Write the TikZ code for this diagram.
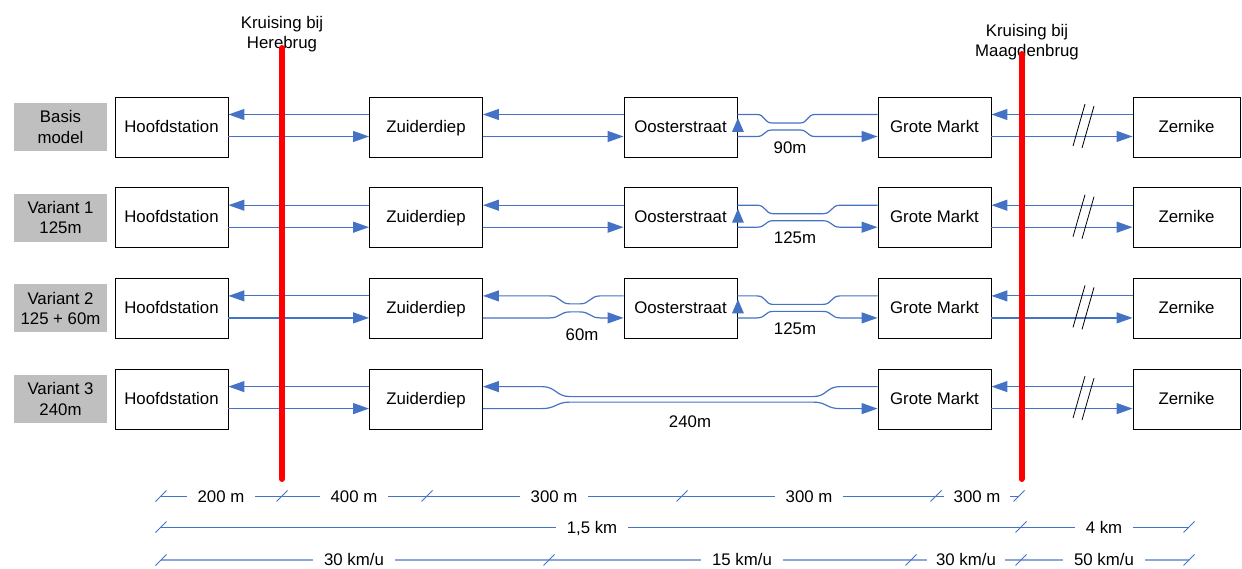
\documentclass[tikz,border=0pt]{standalone}
\usepackage{fontspec}
\setmainfont{Liberation Sans}
\usetikzlibrary{arrows.meta,calc}
\definecolor{track}{RGB}{68,114,196}
\definecolor{tracklight}{RGB}{140,168,218}
\definecolor{tagfill}{RGB}{191,191,191}
\definecolor{bridge}{RGB}{255,0,0}

\begin{document}
\begin{tikzpicture}[x=1pt,y=-1pt,
  every node/.style={font=\fontsize{16.8}{20.5}\selectfont, inner sep=0pt},
  oneline/.style={text height=12pt, text depth=1.5pt},
  station/.style={oneline, draw=black, line width=0.9pt, minimum width=113pt, minimum height=60pt, fill=white},
  tagbox/.style={fill=tagfill, minimum width=93pt, minimum height=48pt, align=center},
  link/.style={draw=track, line width=1.2pt},
  arrowin/.style={-{Triangle[length=16pt,width=11pt]}},
  uptip/.style={fill=track},
  breakmark/.style={draw=black, line width=0.8pt},
  bridgeline/.style={draw=bridge, line width=6pt, line cap=round},
  dimline/.style={draw=track, line width=1pt},
  dimlight/.style={draw=tracklight, line width=1.5pt},
  dimtick/.style={draw=track, line width=1pt},
  dimlabel/.style={fill=white, inner xsep=11pt, inner ysep=1pt, text height=12pt, text depth=0pt},
  seglabel/.style={oneline}
]
\useasboundingbox (0,0) rectangle (1242,569);

% ---------- row 1: basis model ----------
\begin{scope}
\node[tagbox] (t1) at (60.5,127) {Basis\\model};
\node[station] (hs1) at (171.5,127) {Hoofdstation};
\node[station] (zd1) at (426,127) {Zuiderdiep};
\node[station] (os1) at (680.5,127) {Oosterstraat};
\node[station] (gm1) at (934.5,127) {Grote Markt};
\node[station, minimum width=107pt] (zn1) at (1186.5,127) {Zernike};
\draw[link,arrowin] ($(zd1.west)+(0,-12.5)$) -- ($(hs1.east)+(0,-12.5)$);
\draw[link,arrowin] ($(hs1.east)+(0,9.5)$) -- ($(zd1.west)+(0,9.5)$);
\draw[link,arrowin] ($(os1.west)+(0,-12.5)$) -- ($(zd1.east)+(0,-12.5)$);
\draw[link,arrowin] ($(zd1.east)+(0,9.5)$) -- ($(os1.west)+(0,9.5)$);
\draw[link] ($(gm1.west)+(0,-12.5)$) -- (815,114.5) .. controls (807,114.5) and (808,123) .. (800,123) -- (772,123) .. controls (764,123) and (765,114.5) .. (757,114.5) -- ($(os1.east)+(0,-12.5)$);
\draw[link,arrowin] ($(os1.east)+(0,9.5)$) -- (757,136.5) .. controls (765,136.5) and (764,130) .. (772,130) -- (800,130) .. controls (808,130) and (807,136.5) .. (815,136.5) -- ($(gm1.west)+(0,9.5)$);
\fill[uptip] ($(os1.east)+(0.5,-9)$) -- ($(os1.east)+(6.5,5)$) -- ($(os1.east)+(-5.5,5)$) -- cycle;
\node[seglabel] (l1) at (790,148) {90m};
\draw[link,arrowin] ($(zn1.west)+(0,-12.5)$) -- ($(gm1.east)+(0,-12.5)$);
\draw[link,arrowin] ($(gm1.east)+(0,9.5)$) -- ($(zn1.west)+(0,9.5)$);
\draw[breakmark] (1073,146) -- (1085,104);
\draw[breakmark] (1082,148) -- (1094,106);
\end{scope}

% ---------- row 2: variant 1 ----------
\begin{scope}[yshift=-90.7pt]
\node[tagbox] (t2) at (60.5,127) {Variant 1\\125m};
\node[station] (hs2) at (171.5,127) {Hoofdstation};
\node[station] (zd2) at (426,127) {Zuiderdiep};
\node[station] (os2) at (680.5,127) {Oosterstraat};
\node[station] (gm2) at (934.5,127) {Grote Markt};
\node[station, minimum width=107pt] (zn2) at (1186.5,127) {Zernike};
\draw[link,arrowin] ($(zd2.west)+(0,-12.5)$) -- ($(hs2.east)+(0,-12.5)$);
\draw[link,arrowin] ($(hs2.east)+(0,9.5)$) -- ($(zd2.west)+(0,9.5)$);
\draw[link,arrowin] ($(os2.west)+(0,-12.5)$) -- ($(zd2.east)+(0,-12.5)$);
\draw[link,arrowin] ($(zd2.east)+(0,9.5)$) -- ($(os2.west)+(0,9.5)$);
\draw[link] ($(gm2.west)+(0,-12.5)$) -- (840,114.5) .. controls (831,114.5) and (832,123) .. (823,123) -- (773,123) .. controls (765,123) and (766,114.5) .. (757,114.5) -- ($(os2.east)+(0,-12.5)$);
\draw[link,arrowin] ($(os2.east)+(0,9.5)$) -- (757,136.5) .. controls (766,136.5) and (765,130) .. (773,130) -- (823,130) .. controls (832,130) and (831,136.5) .. (840,136.5) -- ($(gm2.west)+(0,9.5)$);
\fill[uptip] ($(os2.east)+(0.5,-9)$) -- ($(os2.east)+(6.5,5)$) -- ($(os2.east)+(-5.5,5)$) -- cycle;
\node[seglabel] (l2) at (795,147.5) {125m};
\draw[link,arrowin] ($(zn2.west)+(0,-12.5)$) -- ($(gm2.east)+(0,-12.5)$);
\draw[link,arrowin] ($(gm2.east)+(0,9.5)$) -- ($(zn2.west)+(0,9.5)$);
\draw[breakmark] (1073,146) -- (1085,104);
\draw[breakmark] (1082,148) -- (1094,106);
\end{scope}

% ---------- row 3: variant 2 ----------
\begin{scope}[yshift=-181.4pt]
\node[tagbox] (t3) at (60.5,127) {Variant 2\\125 + 60m};
\node[station] (hs3) at (171.5,127) {Hoofdstation};
\node[station] (zd3) at (426,127) {Zuiderdiep};
\node[station] (os3) at (680.5,127) {Oosterstraat};
\node[station] (gm3) at (934.5,127) {Grote Markt};
\node[station, minimum width=107pt] (zn3) at (1186.5,127) {Zernike};
\draw[link,arrowin] ($(zd3.west)+(0,-12.5)$) -- ($(hs3.east)+(0,-12.5)$);
\draw[link,arrowin] ($(hs3.east)+(0,9.5)$) -- ($(zd3.west)+(0,9.5)$);
\draw[link,arrowin] ($(os3.west)+(0,-12.5)$) -- (600,114.5) .. controls (590,114.5) and (590,122.5) .. (580,122.5) -- (570,122.5) .. controls (560,122.5) and (560,114.5) .. (550,114.5) -- ($(zd3.east)+(0,-12.5)$);
\draw[link,arrowin] ($(zd3.east)+(0,9.5)$) -- (550,136.5) .. controls (560,136.5) and (560,130.5) .. (570,130.5) -- (580,130.5) .. controls (590,130.5) and (590,136.5) .. (600,136.5) -- ($(os3.west)+(0,9.5)$);
\node[seglabel] (l3a) at (582,154) {60m};
\draw[link] ($(gm3.west)+(0,-12.5)$) -- (840,114.5) .. controls (831,114.5) and (832,123) .. (823,123) -- (773,123) .. controls (765,123) and (766,114.5) .. (757,114.5) -- ($(os3.east)+(0,-12.5)$);
\draw[link,arrowin] ($(os3.east)+(0,9.5)$) -- (757,136.5) .. controls (766,136.5) and (765,130) .. (773,130) -- (823,130) .. controls (832,130) and (831,136.5) .. (840,136.5) -- ($(gm3.west)+(0,9.5)$);
\fill[uptip] ($(os3.east)+(0.5,-9)$) -- ($(os3.east)+(6.5,5)$) -- ($(os3.east)+(-5.5,5)$) -- cycle;
\node[seglabel] (l3b) at (795,147.5) {125m};
\draw[link,arrowin] ($(zn3.west)+(0,-12.5)$) -- ($(gm3.east)+(0,-12.5)$);
\draw[link,arrowin] ($(gm3.east)+(0,9.5)$) -- ($(zn3.west)+(0,9.5)$);
\draw[breakmark] (1073,146) -- (1085,104);
\draw[breakmark] (1082,148) -- (1094,106);
\end{scope}

% ---------- row 4: variant 3 ----------
\begin{scope}[yshift=-272.1pt]
\node[tagbox] (t4) at (60.5,127) {Variant 3\\240m};
\node[station] (hs4) at (171.5,127) {Hoofdstation};
\node[station] (zd4) at (426,127) {Zuiderdiep};
\node[station] (gm4) at (934.5,127) {Grote Markt};
\node[station, minimum width=107pt] (zn4) at (1186.5,127) {Zernike};
\draw[link,arrowin] ($(zd4.west)+(0,-12.5)$) -- ($(hs4.east)+(0,-12.5)$);
\draw[link,arrowin] ($(hs4.east)+(0,9.5)$) -- ($(zd4.west)+(0,9.5)$);
\draw[link,arrowin] ($(gm4.west)+(0,-12.5)$) -- (840,114.5) .. controls (826,114.5) and (827,124.5) .. (813,124.5) -- (570,124.5) .. controls (556,124.5) and (556,114.5) .. (542,114.5) -- ($(zd4.east)+(0,-12.5)$);
\draw[link,arrowin] ($(zd4.east)+(0,9.5)$) -- (542,136.5) .. controls (556,136.5) and (556,130) .. (570,130) -- (813,130) .. controls (827,130) and (826,136.5) .. (840,136.5) -- ($(gm4.west)+(0,9.5)$);
\node[seglabel] (l4) at (690,150) {240m};
\draw[link,arrowin] ($(zn4.west)+(0,-12.5)$) -- ($(gm4.east)+(0,-12.5)$);
\draw[link,arrowin] ($(gm4.east)+(0,9.5)$) -- ($(zn4.west)+(0,9.5)$);
\draw[breakmark] (1073,146) -- (1085,104);
\draw[breakmark] (1082,148) -- (1094,106);
\end{scope}

% ---------- crossings ----------
\node[align=center] (kh) at (282,34) {Kruising bij\\Herebrug};
\node[align=center] (km) at (1027,42) {Kruising bij\\Maagdenbrug};
\coordinate (hTop) at (282,48);
\coordinate (hBot) at (282,479);
\coordinate (mTop) at (1021.5,54);
\coordinate (mBot) at (1021.5,479);
\draw[bridgeline] (hTop) -- (hBot);
\draw[bridgeline] (mTop) -- (mBot);

% ---------- distances ----------
\foreach \x/\n in {161/a0,282/a1,427/a2,682/a3,936/a4,1019/a5}
  \coordinate (\n) at (\x,496);
\draw[dimline] (a0) -- (a5);
\foreach \x/\n in {161/b0,1021/b1,1189/b2}
  \coordinate (\n) at (\x,527);
\draw[dimline] (b0) -- (b2);
\foreach \x/\n in {161/c0,549/c1,911/c2,1021/c3,1189/c4}
  \coordinate (\n) at (\x,560);
\draw[dimlight] (c0) -- (c4);
\foreach \n in {a0,a1,a2,a3,a4,a5,b0,b1,b2,c0,c1,c2,c3,c4}
  \draw[dimtick] ($(\n)+(-5.5,5.5)$) -- ($(\n)+(5.5,-5.5)$);

\node[dimlabel] (d1) at (221,496) {200 m};
\node[dimlabel] (d2) at (354,496) {400 m};
\node[dimlabel] (d3) at (554,496) {300 m};
\node[dimlabel] (d4) at (809,496) {300 m};
\node[dimlabel, inner xsep=10pt] (d5) at (977,496) {300 m};
\node[dimlabel] (e1) at (592,527) {1,5 km};
\node[dimlabel] (e2) at (1104,527) {4 km};
\node[dimlabel] (f1) at (354,559) {30 km/u};
\node[dimlabel] (f2) at (742,559) {15 km/u};
\node[dimlabel, inner xsep=9pt] (f3) at (966,559) {30 km/u};
\node[dimlabel] (f4) at (1104,559) {50 km/u};
\end{tikzpicture}
\end{document}
